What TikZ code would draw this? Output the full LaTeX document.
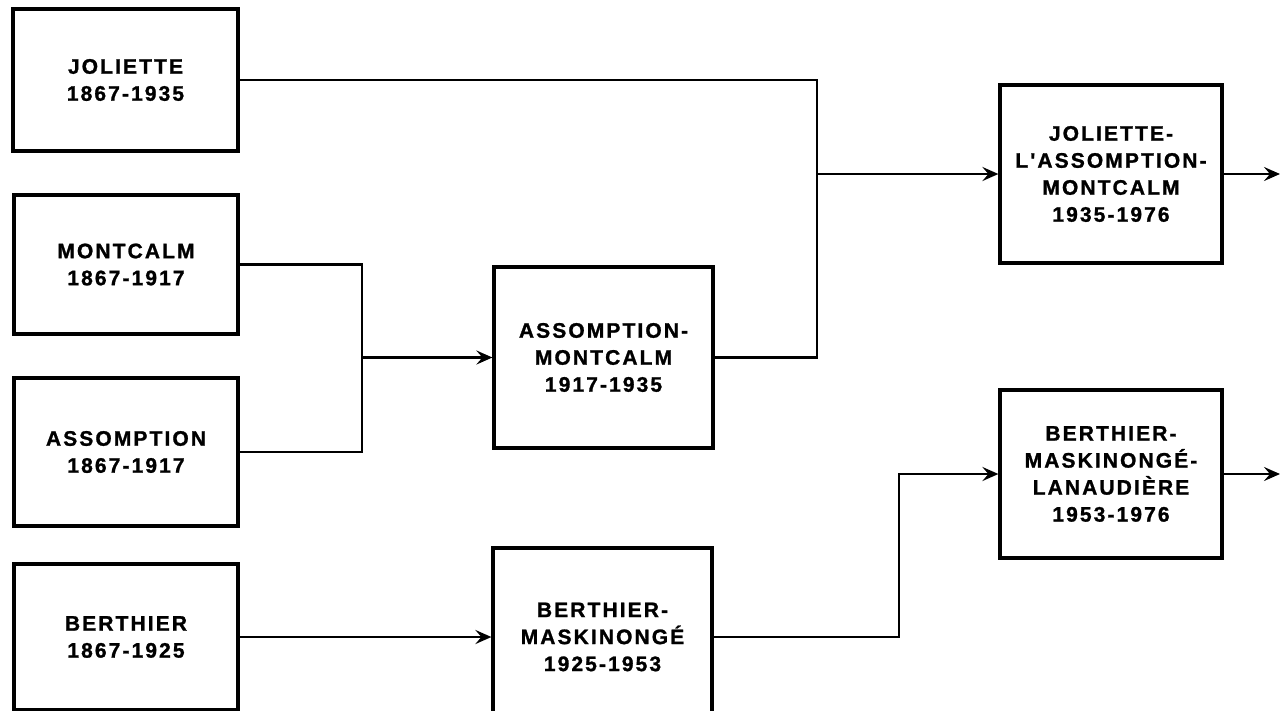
\documentclass[tikz,border=0pt]{standalone}
\usepackage{fontspec}
\newfontfamily\boxfont[LetterSpace=10, BoldFeatures={FakeBold=1.2}]{Liberation Sans}
\usepackage{tikz}
\usetikzlibrary{arrows.meta,positioning,calc}

\begin{document}
\begin{tikzpicture}[x=1pt, y=-1pt,
        box/.style={rectangle, draw=black, line width=3.2pt, minimum width=222pt, align=center,
          font=\boxfont\bfseries\fontsize{21}{27}\selectfont, fill=white},
        arr/.style={-{Stealth[length=16pt, width=14pt, inset=6pt]}, line width=2.6pt},
        wire/.style={line width=2.6pt}
      ]
        \clip (0,0) rectangle (1281,710);
        \fill[white] (0,0) rectangle (1281,710);

        % first column
        \node[box, minimum width=225pt, minimum height=142pt] (jol) at (125.5,80)  {JOLIETTE\\1867-1935};
        \node[box, minimum width=224pt, minimum height=139pt] (mon) at (126,264.5) {MONTCALM\\1867-1917};
        \node[box, minimum width=224pt, minimum height=148pt] (ass) at (126,452)   {ASSOMPTION\\1867-1917};
        \node[box, minimum width=224pt, minimum height=146pt] (ber) at (126,637)   {BERTHIER\\1867-1925};

        % second column
        \node[box, minimum width=219pt, minimum height=181pt] (am)  at (603.5,357.5) {ASSOMPTION-\\MONTCALM\\1917-1935};
        \node[box, minimum width=219pt, minimum height=178pt] (bm)  at (602.5,637)   {BERTHIER-\\MASKINONGÉ\\1925-1953};

        % third column
        \node[box, minimum height=178pt] (jlm) at (1111,174) {JOLIETTE-\\L'ASSOMPTION-\\MONTCALM\\1935-1976};
        \node[box, minimum height=168pt] (bml) at (1111,474) {BERTHIER-\\MASKINONGÉ-\\LANAUDIÈRE\\1953-1976};

        % junction points
        \coordinate (mx) at (362,0);
        \coordinate (jx) at (817,0);
        \coordinate (bx) at (899,0);
        \coordinate (out1) at (1280,174);
        \coordinate (out2) at (1280,474);

        \draw[wire] (mon.east) -| (mx |- ass.east) -- (ass.east);
        \draw[arr]  (mx |- am.west) -- (am.west);

        \draw[wire] (jol.east) -| (jx |- am.east) -- (am.east);
        \draw[arr]  (jx |- jlm.west) -- (jlm.west);

        \draw[arr]  (ber.east) -- (bm.west);
        \draw[arr]  (bm.east) -| (bx |- bml.west) -- (bml.west);

        \draw[arr]  (jlm.east) -- (out1);
        \draw[arr]  (bml.east) -- (out2);
      \end{tikzpicture}
\end{document}
